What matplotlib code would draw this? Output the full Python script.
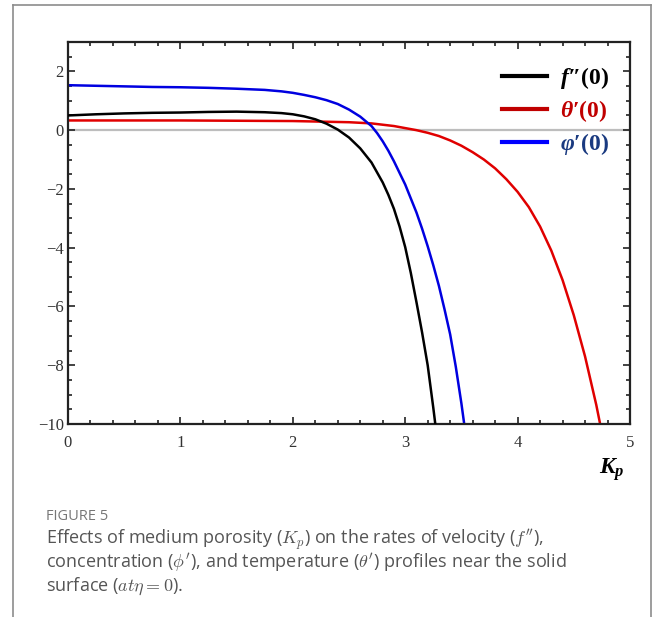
import matplotlib
matplotlib.use("Agg")
import matplotlib.pyplot as plt
from matplotlib.lines import Line2D
from matplotlib.ticker import MultipleLocator

plt.rcParams['mathtext.fontset'] = 'custom'
plt.rcParams['mathtext.it'] = 'Liberation Serif:italic:bold'
plt.rcParams['mathtext.rm'] = 'Liberation Serif:bold'
plt.rcParams['mathtext.bf'] = 'Liberation Serif:bold'

# ---- data ----
kp_f = [0.0, 0.25, 0.5, 0.75, 1.0, 1.25, 1.5, 1.75, 1.9, 2.0, 2.1, 2.2, 2.3, 2.4, 2.5, 2.6,
        2.7, 2.8, 2.85, 2.9, 2.95, 3.0, 3.05, 3.1, 3.15, 3.2, 3.25, 3.3]
f_vals = [0.50, 0.54, 0.57, 0.59, 0.60, 0.62, 0.63, 0.61, 0.58, 0.54, 0.47, 0.37, 0.22, 0.02,
          -0.25, -0.62, -1.10, -1.78, -2.20, -2.68, -3.28, -3.98, -4.86, -5.85, -6.88,
          -8.00, -9.45, -11.0]

kp_phi = [0.0, 0.25, 0.5, 0.75, 1.0, 1.25, 1.5, 1.75, 1.9, 2.0, 2.1, 2.2, 2.3, 2.4, 2.5, 2.6,
          2.7, 2.75, 2.8, 2.85, 2.9, 3.0, 3.1, 3.15, 3.2, 3.25, 3.3, 3.35, 3.4, 3.45, 3.5, 3.55]
phi_vals = [1.53, 1.51, 1.49, 1.47, 1.46, 1.44, 1.41, 1.37, 1.32, 1.27, 1.20, 1.12, 1.02, 0.89,
            0.70, 0.46, 0.14, -0.10, -0.38, -0.70, -1.06, -1.85, -2.80, -3.35, -3.95, -4.60,
            -5.30, -6.10, -6.95, -8.05, -9.30, -10.70]

kp_theta = [0.0, 0.5, 1.0, 1.5, 2.0, 2.25, 2.5, 2.7, 2.9, 3.0, 3.1, 3.2, 3.3, 3.4, 3.5, 3.6,
            3.7, 3.8, 3.9, 4.0, 4.1, 4.2, 4.3, 4.4, 4.5, 4.6, 4.7, 4.75]
theta_vals = [0.33, 0.33, 0.33, 0.32, 0.31, 0.29, 0.27, 0.23, 0.14, 0.07, 0.0, -0.09, -0.20,
              -0.35, -0.53, -0.75, -1.00, -1.30, -1.67, -2.10, -2.62, -3.28, -4.10, -5.10,
              -6.30, -7.70, -9.35, -10.30]

symbols = [r"$f$", r"$\theta$", r"$\varphi$"]
suffixes = ["\u2033(0)", "\u2032(0)", "\u2032(0)"]
x_ticks = [0, 1, 2, 3, 4, 5]
y_ticks = [2, 0, -2, -4, -6, -8, -10]

line_colors = ['#000000', '#e00000', '#0000e0']
legend_line_colors = ['#000000', '#c00000', '#0000ff']
legend_text_colors = ['#000000', '#c00000', '#1a3a80']

fig = plt.figure(figsize=(6.56, 6.17), dpi=100)
W, H = 656, 617

# outer frame
frame_kw = dict(color='#8c8c8c', lw=1.2, transform=fig.transFigure)
fig.add_artist(Line2D([13 / W, 13 / W], [0, 1 - 5 / H], **frame_kw))
fig.add_artist(Line2D([13 / W, 651 / W], [1 - 5 / H, 1 - 5 / H], **frame_kw))
fig.add_artist(Line2D([651 / W, 651 / W], [0, 1 - 5 / H], **frame_kw))

ax = fig.add_axes([68 / W, 1 - 424 / H, (630 - 68) / W, (424 - 42) / H])

ax.axhline(0, color='#bdbdbd', lw=1.6, zorder=1)
lw = 1.8
ax.plot(kp_f, f_vals, color=line_colors[0], lw=lw, zorder=3)
ax.plot(kp_theta, theta_vals, color=line_colors[1], lw=lw, zorder=2)
ax.plot(kp_phi, phi_vals, color=line_colors[2], lw=lw, zorder=2)

ax.set_xlim(0, 5)
ax.set_ylim(-10, 3)
ax.set_xticks(x_ticks)
ax.set_yticks(y_ticks)
ax.xaxis.set_minor_locator(MultipleLocator(0.2))
ax.yaxis.set_minor_locator(MultipleLocator(0.5))
ax.tick_params(which='both', direction='in', top=True, right=True, width=1.2, color='#222222')
ax.tick_params(which='major', length=5)
ax.tick_params(which='minor', length=3)
ax.tick_params(axis='both', labelsize=12, labelcolor='#333333')
ax.tick_params(axis='x', pad=8)
ax.tick_params(axis='y', pad=3)
for lab in ax.get_xticklabels() + ax.get_yticklabels():
    lab.set_family('Liberation Serif')
for sp in ax.spines.values():
    sp.set_linewidth(1.6)
    sp.set_color('#222222')

handles = [Line2D([], [], color=c, lw=3) for c in legend_line_colors]
labels = [s + t for s, t in zip(symbols, suffixes)]
leg = ax.legend(handles, labels, loc='upper left', bbox_to_anchor=(0.755, 0.965),
                frameon=False, prop={'family': 'Liberation Serif', 'weight': 'bold', 'size': 17},
                handlelength=1.9, handletextpad=0.55, labelspacing=0.3, borderaxespad=0)
for t, c in zip(leg.get_texts(), legend_text_colors):
    t.set_color(c)

fig.text(612 / W, 1 - 470 / H, r"$K_p$", fontsize=17, ha='center', va='center')

cap_kw = dict(family='Open Sans', color='#555555', fontsize=13, ha='left', va='center',
              math_fontfamily='cm')
fig.text(46 / W, 1 - 516 / H, "FIGURE 5", family='Open Sans', color='#777777',
         fontsize=10.5, ha='left', va='center')
fig.text(46 / W, 1 - 540 / H,
         r"Effects of medium porosity ($K_p$) on the rates of velocity ($f''$),", **cap_kw)
fig.text(46 / W, 1 - 563 / H,
         r"concentration ($\phi'$), and temperature ($\theta'$) profiles near the solid", **cap_kw)
fig.text(46 / W, 1 - 586 / H, r"surface ($at\eta = 0$).", **cap_kw)

fig.savefig("out.png", dpi=100)
